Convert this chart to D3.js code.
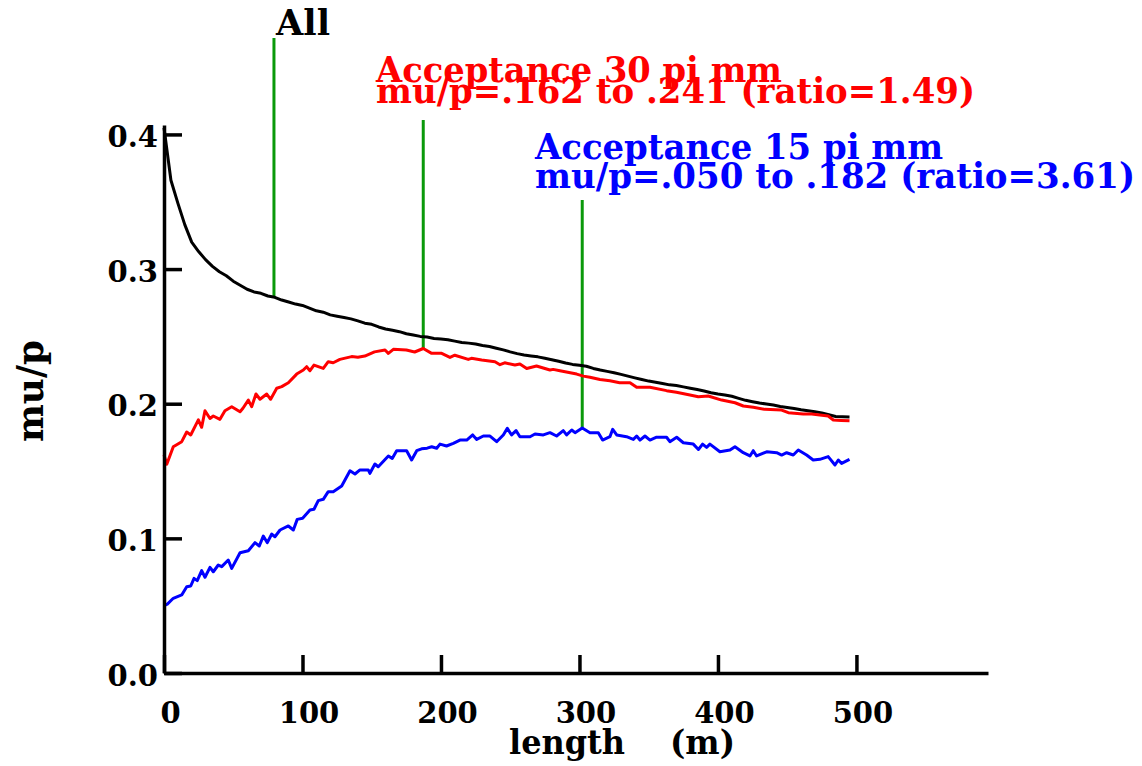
<!DOCTYPE html>
<html>
<head>
<meta charset="utf-8">
<script src="https://cdn.jsdelivr.net/npm/d3@7"></script>
<style>
  html, body { margin: 0; padding: 0; background: #fff; }
  svg text { font-family: "DejaVu Serif", "Liberation Serif", serif; font-weight: bold; }
</style>
</head>
<body>
<svg id="chart" width="1142" height="766"></svg>
<script>
// mu/p versus length, for all tracks and two acceptance cuts
const allX = [0,5,10,15,20,25,30,35,40,45,50,55,60,65,70,75,80,85,90,95,100,105,110,115,120,125,130,135,140,145,150,155,160,165,170,175,180,185,190,195,200,205,210,215,220,225,230,235,240,245,250,255,260,265,270,275,280,285,290,295,300,305,310,315,320,325,330,335,340,345,350,355,360,365,370,375,380,385,390,395,400,405,410,415,420,425,430,435,440,445,450,455,460,465,470,475,480,485,490,495];
const allY = [0.405,0.366,0.349,0.333,0.320,0.313,0.307,0.302,0.298,0.295,0.291,0.288,0.285,0.283,0.282,0.280,0.279,0.277,0.2755,0.274,0.273,0.271,0.269,0.268,0.266,0.265,0.264,0.263,0.2615,0.2598,0.259,0.257,0.2555,0.2545,0.2535,0.252,0.251,0.250,0.2495,0.2485,0.248,0.2475,0.2465,0.2455,0.245,0.2443,0.2432,0.2425,0.2412,0.240,0.2385,0.2372,0.2362,0.2355,0.2348,0.2338,0.2327,0.2315,0.2302,0.2292,0.2285,0.2278,0.2262,0.2250,0.2240,0.2230,0.2218,0.2205,0.2192,0.2180,0.2168,0.2160,0.2150,0.2140,0.2135,0.2125,0.2115,0.2105,0.2095,0.2082,0.2072,0.2065,0.2055,0.2040,0.2025,0.2015,0.2005,0.1998,0.1990,0.1980,0.1972,0.1965,0.1955,0.1948,0.1940,0.1932,0.1918,0.1905,0.1903,0.1902];

const acc30X = [0,2,6.7,12.8,16.4,19.3,24.8,27.2,29.6,33.2,35.6,40.4,44,48.9,54.9,57,60.9,63.3,66.4,69.3,74.2,77,81.4,85,89.8,95.8,100.6,103,105.4,108.3,115,118.6,122.2,127,135.5,140,145,152,159.6,162,165.6,175,181,187.2,193.3,200.5,206.5,210,219.7,222,229.4,239,242.6,246,253.4,257,261.9,269,278.7,281,285.9,298,302.8,307.6,314.8,322,329,336.5,341.3,350.9,362.9,370,379.8,385.8,393,402.7,412.3,418.3,425.5,433.9,446,450.8,461.6,467.7,473.6,479.6,483.3,489,495];
const acc30Y = [0.162,0.155,0.168,0.1718,0.179,0.1768,0.188,0.1825,0.1948,0.189,0.1909,0.1884,0.1948,0.1978,0.194,0.1966,0.2027,0.1978,0.2072,0.2033,0.2072,0.2033,0.2115,0.2127,0.2156,0.222,0.225,0.2275,0.2245,0.2287,0.2262,0.2312,0.2304,0.2329,0.235,0.2345,0.2354,0.2385,0.2399,0.2374,0.2404,0.2399,0.2384,0.241,0.2374,0.2374,0.2344,0.236,0.2329,0.2337,0.2325,0.2312,0.229,0.2304,0.2287,0.2295,0.2262,0.228,0.225,0.2255,0.2245,0.222,0.2205,0.2196,0.218,0.2171,0.2156,0.2156,0.2122,0.2122,0.2097,0.2085,0.2065,0.2052,0.2057,0.2027,0.2007,0.1983,0.1973,0.1958,0.1953,0.1933,0.1924,0.1924,0.1916,0.1909,0.1879,0.1876,0.1874];

const acc15X = [0,2.4,6.7,12.8,16.4,19.3,21.7,24,27.2,29.6,33.2,35.6,39.2,41.7,46.4,48.9,54.9,60.9,65.7,68.8,71.7,74.6,77.8,80.1,83.8,89.8,93.4,96.2,100.1,105.4,108.3,111.4,115,118.6,122.2,128.3,134.3,137.9,141.5,147.5,148.7,152.3,154.7,162,164.8,168,175.2,178.8,182.5,186,190,193.3,196.9,199.3,204,208.9,213.7,218.6,222.9,225.8,230.6,235.4,240.2,245,247.9,251,254.2,257,264.3,267.9,273.9,278.7,283.5,288.3,290.7,294.4,296.8,302,307.6,313.6,316.7,322,324,326.9,334,338.9,341.3,343.7,347.3,350.9,355.7,362.9,365.3,370.2,375,382.2,385.9,388.9,391.8,394.2,401.4,408.7,412.3,418.3,423.1,425.5,427.9,435.2,442.4,446,449.6,454.4,458,464,468.8,473.6,479.6,484.5,486.9,489.3,495];
const acc15Y = [0.050,0.0512,0.0555,0.058,0.0641,0.0646,0.0703,0.0686,0.076,0.0711,0.0785,0.0752,0.0802,0.079,0.0839,0.0777,0.0893,0.0908,0.0968,0.0943,0.1017,0.0968,0.1032,0.1012,0.1062,0.1092,0.1062,0.1141,0.1149,0.121,0.1216,0.128,0.129,0.1347,0.1347,0.1389,0.1502,0.1478,0.1508,0.1508,0.1483,0.1552,0.1532,0.1612,0.1594,0.1651,0.1651,0.1582,0.1651,0.1665,0.167,0.168,0.1669,0.17,0.1686,0.1706,0.173,0.173,0.1768,0.1735,0.176,0.176,0.1718,0.1768,0.1817,0.1768,0.18,0.1755,0.1755,0.1775,0.1768,0.1785,0.176,0.18,0.1768,0.1805,0.1785,0.182,0.1785,0.1785,0.173,0.1755,0.181,0.1768,0.1755,0.1735,0.176,0.173,0.176,0.173,0.1751,0.1751,0.1718,0.1751,0.171,0.17,0.166,0.17,0.1676,0.17,0.1643,0.1656,0.1681,0.1636,0.1612,0.1651,0.1612,0.1643,0.1636,0.1619,0.1636,0.1619,0.1656,0.1619,0.1582,0.1587,0.1607,0.1545,0.1582,0.1557,0.1587];

const markerX = [79.4, 187.2, 302];
const markerTop = [0.4716, 0.4107, 0.3513];
const markerBottom = [0.2785, 0.241, 0.182];

const xTicks = [0, 100, 200, 300, 400, 500];
const yTicks = [0.0, 0.1, 0.2, 0.3, 0.4];

const svg = d3.select("#chart");
const x = d3.scaleLinear().domain([0, 595]).range([164, 988]);
const y = d3.scaleLinear().domain([0, 0.407]).range([673, 125]);

const series = [
  { xs: allX, ys: allY, color: "#000000" },
  { xs: acc30X, ys: acc30Y, color: "#ff0000" },
  { xs: acc15X, ys: acc15Y, color: "#0000ff" }
];

const line = d3.line().x(d => x(d[0])).y(d => y(d[1]));

// markers
svg.append("g").selectAll("line").data(markerX).join("line")
  .attr("x1", d => x(d)).attr("x2", d => x(d))
  .attr("y1", (d, i) => y(markerTop[i])).attr("y2", (d, i) => y(markerBottom[i]))
  .attr("stroke", "#0a990a").attr("stroke-width", 3);

// curves
svg.append("g").selectAll("path").data(series).join("path")
  .attr("d", s => line(d3.zip(s.xs, s.ys)))
  .attr("fill", "none")
  .attr("stroke", s => s.color)
  .attr("stroke-width", 3)
  .attr("stroke-linejoin", "round");

// axes
const xAxis = d3.axisBottom(x).tickValues(xTicks).tickSize(-18).tickSizeOuter(0).tickPadding(0)
  .tickFormat(d3.format("d"));
const yAxis = d3.axisLeft(y).tickValues(yTicks).tickSize(-18).tickSizeOuter(0).tickPadding(0)
  .tickFormat(d3.format(".1f"));

const gx = svg.append("g").attr("transform", `translate(0,${y(0)})`).call(xAxis);
const gy = svg.append("g").attr("transform", `translate(${x(0)},0)`).call(yAxis);

[gx, gy].forEach(g => {
  g.select(".domain").attr("stroke", "#000").attr("stroke-width", 3.5);
  g.selectAll(".tick line").attr("stroke", "#000").attr("stroke-width", 3.5);
  g.selectAll(".tick text").attr("fill", "#000").attr("font-size", 29)
    .attr("font-family", "DejaVu Serif").attr("font-weight", "bold");
});
gx.selectAll(".tick text").attr("dy", null).attr("y", 50).attr("x", 6).attr("text-anchor", "middle");
gy.selectAll(".tick text").attr("dy", null).attr("y", 12).attr("x", -6).attr("text-anchor", "end");

// axis titles
svg.append("text").attr("x", 509).attr("y", 754).attr("font-size", 34)
  .attr("textLength", 116).attr("lengthAdjust", "spacingAndGlyphs").text("length");
svg.append("text").attr("x", 670).attr("y", 754).attr("font-size", 34)
  .attr("textLength", 65).attr("lengthAdjust", "spacingAndGlyphs").text("(m)");
svg.append("text").attr("transform", "translate(43,391) rotate(-90)")
  .attr("text-anchor", "middle").attr("font-size", 38)
  .attr("textLength", 102).attr("lengthAdjust", "spacingAndGlyphs").text("mu/p");

// annotations
const notes = [
  { t: "All", x: 276, y: 35, w: 54, c: "#000000" },
  { t: "Acceptance 30 pi mm", x: 376, y: 82, w: 406, c: "#ff0000" },
  { t: "mu/p=.162 to .241 (ratio=1.49)", x: 376, y: 103, w: 599, c: "#ff0000" },
  { t: "Acceptance 15 pi mm", x: 535, y: 159, w: 408, c: "#0000ff" },
  { t: "mu/p=.050 to .182 (ratio=3.61)", x: 535, y: 188, w: 600, c: "#0000ff" }
];
svg.append("g").selectAll("text").data(notes).join("text")
  .attr("x", d => d.x).attr("y", d => d.y)
  .attr("font-size", 36)
  .attr("fill", d => d.c)
  .attr("textLength", d => d.w).attr("lengthAdjust", "spacingAndGlyphs")
  .text(d => d.t);
</script>
</body>
</html>
